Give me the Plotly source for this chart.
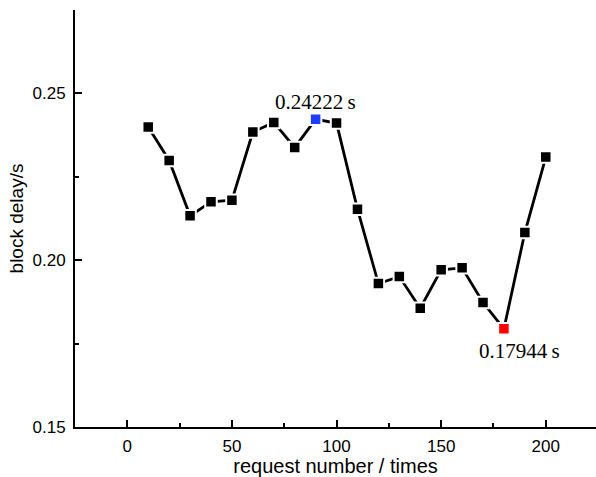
import plotly.graph_objects as go

requests = [10, 20, 30, 40, 50, 60, 70, 80, 90, 100, 110, 120, 130, 140, 150, 160, 170, 180, 190, 200]
delays = [0.2399, 0.2299, 0.2133, 0.2175, 0.2180, 0.2384, 0.2413, 0.2338, 0.24222, 0.2411,
          0.2153, 0.1930, 0.1951, 0.1856, 0.1971, 0.1977, 0.1873, 0.17944, 0.2083, 0.2309]
max_x, max_y, max_label = 90, 0.24222, "0.24222\u2009s"
min_x, min_y, min_label = 180, 0.17944, "0.17944\u2009s"

colors = []
for x in requests:
    if x == max_x:
        colors.append("#1f3dff")
    elif x == min_x:
        colors.append("#ff0000")
    else:
        colors.append("#000000")

fig = go.Figure()
fig.add_trace(go.Scatter(
    x=requests, y=delays, mode="lines+markers",
    line=dict(color="black", width=2.8),
    marker=dict(symbol="square", size=11.5, color=colors,
                line=dict(color="white", width=2)),
    showlegend=False, cliponaxis=False,
))

fig.add_annotation(x=max_x, y=max_y, text=max_label, showarrow=False,
                   yshift=17, xshift=0,
                   font=dict(family="Liberation Serif", size=21, color="black"))
fig.add_annotation(x=min_x, y=min_y, text=min_label, showarrow=False,
                   yshift=-22, xshift=16,
                   font=dict(family="Liberation Serif", size=21, color="black"))

axis_common = dict(
    showline=True, linecolor="black", linewidth=2, mirror=False,
    ticks="inside", ticklen=7, tickwidth=1.5, tickcolor="black",
    showgrid=False, zeroline=False,
    tickfont=dict(family="Liberation Sans, Arial", size=17, color="black"),
)

fig.update_xaxes(range=[-25, 224], tick0=0, dtick=50, ticklabelstandoff=3,
                 minor=dict(ticks="inside", ticklen=4, tickwidth=1.5, tickcolor="black", dtick=25, tick0=0),
                 title=dict(text="request number / times", standoff=0,
                            font=dict(family="Liberation Sans, Arial", size=20, color="black")),
                 **axis_common)
fig.update_yaxes(range=[0.15, 0.275], tick0=0.15, dtick=0.05, tickformat=".2f", ticklabelstandoff=4,
                 minor=dict(ticks="inside", ticklen=4, tickwidth=1.5, tickcolor="black", dtick=0.025, tick0=0.15),
                 title=dict(text="block delay/s", standoff=4,
                            font=dict(family="Liberation Sans, Arial", size=19, color="black")),
                 **axis_common)

fig.update_layout(
    width=596, height=477,
    margin=dict(l=75, r=0, t=10, b=50),
    plot_bgcolor="white", paper_bgcolor="white",
)

fig.write_html("out.html")
